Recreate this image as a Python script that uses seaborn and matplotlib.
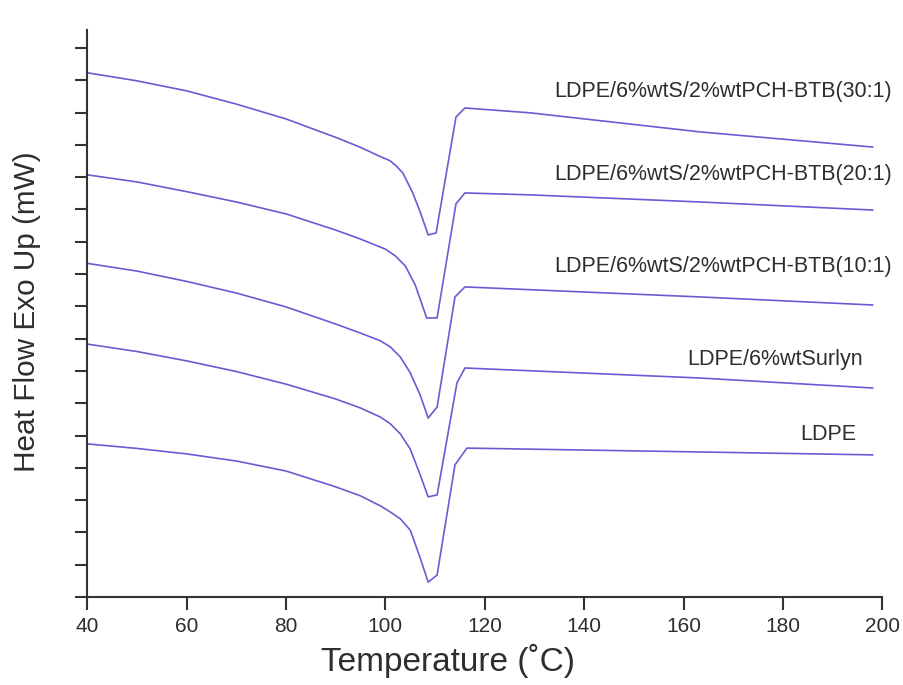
import matplotlib
matplotlib.use("Agg")
import matplotlib.pyplot as plt
import seaborn as sns
import pandas as pd

# ---- data ----
T_30 = [40, 50, 60, 70, 80, 90, 95, 98.9, 100.9, 102.2, 103.5, 105.5, 107, 108.6, 110.2, 114.2, 116.0, 129.1, 163.3, 198.1]
H_30 = [16.23, 15.98, 15.67, 15.26, 14.80, 14.23, 13.92, 13.64, 13.51, 13.34, 13.13, 12.51, 11.92, 11.21, 11.27,
        14.86, 15.14, 14.99, 14.40, 13.93]

T_20 = [40, 50, 60, 70, 80, 90, 95, 100, 102, 104, 106, 108.3, 110.4, 114.2, 116.0, 129.1, 163.3, 198.1]
H_20 = [13.07, 12.85, 12.55, 12.23, 11.86, 11.36, 11.08, 10.77, 10.56, 10.25, 9.66, 8.64, 8.64, 12.17, 12.51,
        12.45, 12.23, 11.98]

T_10 = [40, 50, 60, 70, 80, 90, 95, 99, 101, 103, 105, 107, 108.6, 110.4, 114.0, 116.0, 163.3, 198.1]
H_10 = [10.33, 10.09, 9.77, 9.41, 8.98, 8.45, 8.17, 7.93, 7.74, 7.43, 6.94, 6.25, 5.54, 5.88, 9.29, 9.60,
        9.29, 9.04]

T_S = [40, 50, 60, 70, 80, 90, 95, 99, 101, 103, 105, 107, 108.6, 110.4, 114.4, 116.0, 163.3, 198.1]
H_S = [7.83, 7.60, 7.31, 6.98, 6.59, 6.13, 5.85, 5.57, 5.36, 5.05, 4.58, 3.78, 3.10, 3.16, 6.63, 7.09,
       6.78, 6.47]

T_L = [40, 50, 60, 70, 80, 90, 95, 99, 101, 103, 105, 107, 108.6, 110.4, 114.0, 116.4, 163.3, 198.1]
H_L = [4.74, 4.60, 4.43, 4.21, 3.90, 3.41, 3.13, 2.82, 2.63, 2.42, 2.07, 1.21, 0.46, 0.68, 4.09, 4.61,
       4.49, 4.40]

labels = ["LDPE/6%wtS/2%wtPCH-BTB(30:1)", "LDPE/6%wtS/2%wtPCH-BTB(20:1)",
          "LDPE/6%wtS/2%wtPCH-BTB(10:1)", "LDPE/6%wtSurlyn", "LDPE"]
label_x = [201.9, 201.9, 201.9, 196.1, 194.7]
label_y = [15.64, 13.07, 10.23, 7.34, 5.02]
x_ticks = [40, 60, 80, 100, 120, 140, 160, 180, 200]

series = [(T_30, H_30), (T_20, H_20), (T_10, H_10), (T_S, H_S), (T_L, H_L)]
rows = []
for lab, (ts, hs) in zip(labels, series):
    for t, h in zip(ts, hs):
        rows.append({"Temperature": t, "HeatFlow": h, "Sample": lab})
df = pd.DataFrame(rows)

sns.set_theme(style="ticks")
plt.rcParams["font.family"] = ["Liberation Sans", "DejaVu Sans"]

TXT = "#2e2e2e"
LINE = "#6c5ad2"

fig = plt.figure(figsize=(9.04, 6.85), dpi=100)
ax = fig.add_axes([87.3 / 904, 1 - 597 / 685, 795 / 904, (597 - 30) / 685])

sns.lineplot(data=df, x="Temperature", y="HeatFlow", hue="Sample",
             palette=[LINE] * 5, estimator=None, sort=False, legend=False,
             linewidth=1.2, ax=ax)

ax.set_xlim(40, 200)
ax.set_ylim(0, (597 - 30) / 32.3)
ax.set_xticks(x_ticks)
ax.set_yticks(range(0, 18))
ax.set_yticklabels([])
ax.tick_params(axis="x", direction="out", length=9, width=1.5, color="#333333",
               labelsize=15, labelcolor=TXT, pad=5.5)
ax.tick_params(axis="y", direction="out", length=9, width=1.5, color="#333333")
for side in ["top", "right"]:
    ax.spines[side].set_visible(False)
for side in ["left", "bottom"]:
    ax.spines[side].set_color("#333333")
    ax.spines[side].set_linewidth(1.5)

for lab, lx, ly in zip(labels, label_x, label_y):
    ax.text(lx, ly, lab, ha="right", va="center", fontsize=15.5, color=TXT, clip_on=False)

ax.set_xlabel("Temperature (˚C)", fontsize=24, color=TXT)
ax.set_ylabel("Heat Flow Exo Up (mW)", fontsize=21.4, color=TXT)
ax.xaxis.set_label_coords((448 - 87.3) / 795, -0.083)
ax.yaxis.set_label_coords(-0.058, 0.504)

fig.savefig("out.png", dpi=100)
